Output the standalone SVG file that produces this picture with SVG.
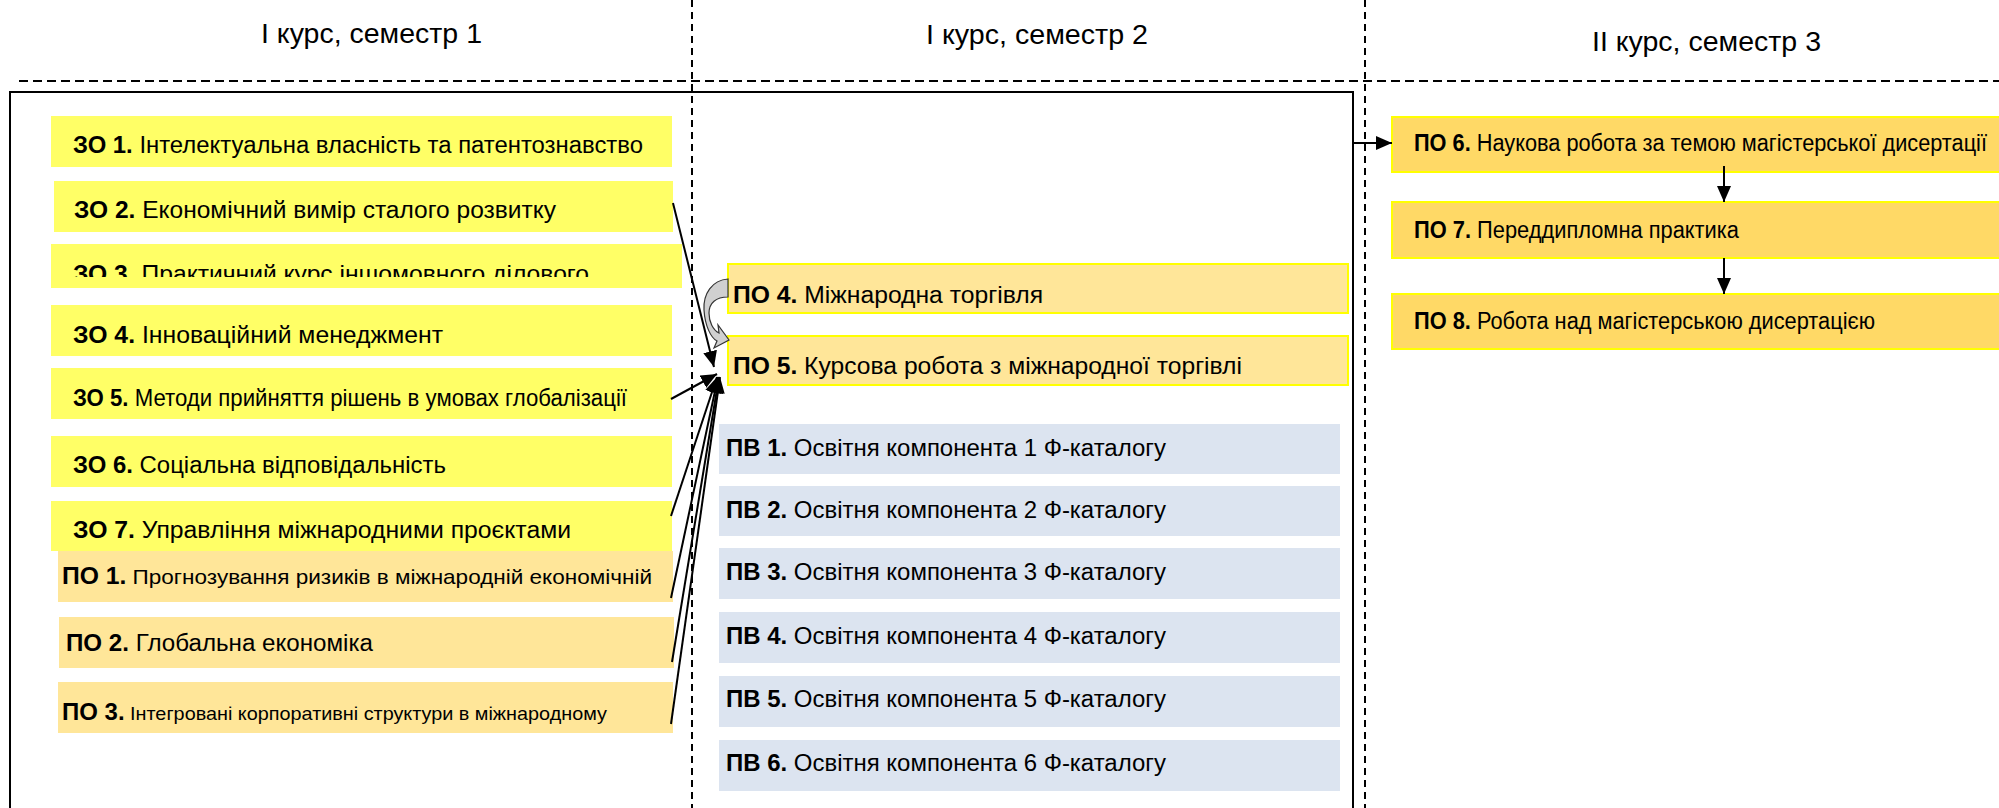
<svg xmlns="http://www.w3.org/2000/svg" width="1999" height="808" viewBox="0 0 1999 808">
<defs>
<style>
text{font-family:"Liberation Sans",Arial,sans-serif;fill:#000}
.t{font-size:27px}
.b{font-size:23px}
.bd{font-weight:bold}
.zo{fill:#FFFF66}
.po{fill:#FFE699}
.pob{fill:#FFE699;stroke:#FFFF00;stroke-width:2}
.pv{fill:#DCE4F0}
.po2{fill:#FFD966;stroke:#FFFF00;stroke-width:2}
.dh{stroke:#000;stroke-width:2;stroke-dasharray:9 5;fill:none}
.dv{stroke:#000;stroke-width:2;stroke-dasharray:7 5;fill:none}
.c{stroke:#000;stroke-width:2;fill:none;marker-end:url(#ah)}
</style>
<marker id="ah" markerUnits="userSpaceOnUse" markerWidth="16" markerHeight="14" refX="16" refY="7" orient="auto">
<path d="M0,0 L16,7 L0,14 z" fill="#000"/>
</marker>
<clipPath id="clip3"><rect x="40" y="240" width="660" height="37"/></clipPath>
</defs>

<g id="grid">
<line class="dh" x1="19" y1="81" x2="1999" y2="81"/>
<line class="dv" x1="692" y1="0" x2="692" y2="808"/>
<line class="dv" x1="1365" y1="0" x2="1365" y2="808"/>
<rect x="10" y="92" width="1343" height="730" fill="none" stroke="#000" stroke-width="2"/>
</g>

<g id="titles">
<text class="t" x="261" y="43" textLength="221" lengthAdjust="spacingAndGlyphs">І курс, семестр 1</text>
<text class="t" x="926" y="44" textLength="222" lengthAdjust="spacingAndGlyphs">І курс, семестр 2</text>
<text class="t" x="1592" y="51" textLength="229" lengthAdjust="spacingAndGlyphs">ІІ курс, семестр 3</text>
</g>

<g id="zo1"><rect class="zo" x="51" y="116" width="621" height="51"/>
<text class="b" x="73" y="153" textLength="570" lengthAdjust="spacingAndGlyphs"><tspan class="bd">ЗО 1.</tspan> Інтелектуальна власність та патентознавство</text></g>
<g id="zo2"><rect class="zo" x="54" y="181" width="619" height="51"/>
<text class="b" x="74" y="218" textLength="482" lengthAdjust="spacingAndGlyphs"><tspan class="bd">ЗО 2.</tspan> Економічний вимір сталого розвитку</text></g>
<g id="zo3"><rect class="zo" x="51" y="244" width="631" height="44"/>
<text class="b" x="73" y="282" textLength="516" lengthAdjust="spacingAndGlyphs" clip-path="url(#clip3)"><tspan class="bd">ЗО 3.</tspan> Практичний курс іншомовного ділового</text></g>
<g id="zo4"><rect class="zo" x="51" y="305" width="621" height="51"/>
<text class="b" x="73" y="343" textLength="370" lengthAdjust="spacingAndGlyphs"><tspan class="bd">ЗО 4.</tspan> Інноваційний менеджмент</text></g>
<g id="zo5"><rect class="zo" x="51" y="368" width="621" height="51"/>
<text class="b" x="73" y="406" textLength="554" lengthAdjust="spacingAndGlyphs"><tspan class="bd">ЗО 5.</tspan> Методи прийняття рішень в умовах глобалізації</text></g>
<g id="zo6"><rect class="zo" x="51" y="436" width="621" height="51"/>
<text class="b" x="73" y="473" textLength="373" lengthAdjust="spacingAndGlyphs"><tspan class="bd">ЗО 6.</tspan> Соціальна відповідальність</text></g>
<g id="zo7"><rect class="zo" x="51" y="501" width="621" height="50"/>
<text class="b" x="73" y="538" textLength="498" lengthAdjust="spacingAndGlyphs"><tspan class="bd">ЗО 7.</tspan> Управління міжнародними проєктами</text></g>

<g id="po1"><rect class="po" x="58" y="551" width="615" height="51"/>
<text class="b" x="62" y="584" textLength="590" lengthAdjust="spacingAndGlyphs"><tspan class="bd">ПО 1.</tspan><tspan font-size="21"> Прогнозування ризиків в міжнародній економічній</tspan></text></g>
<g id="po2"><rect class="po" x="59" y="617" width="615" height="51"/>
<text class="b" x="66" y="651" textLength="307" lengthAdjust="spacingAndGlyphs"><tspan class="bd">ПО 2.</tspan> Глобальна економіка</text></g>
<g id="po3"><rect class="po" x="58" y="682" width="615" height="51"/>
<text class="b" x="62" y="720" textLength="545" lengthAdjust="spacingAndGlyphs"><tspan class="bd">ПО 3.</tspan><tspan font-size="19"> Інтегровані корпоративні структури в міжнародному</tspan></text></g>

<g id="po4"><rect class="pob" x="728" y="264" width="620" height="49"/>
<text class="b" x="733" y="303" textLength="310" lengthAdjust="spacingAndGlyphs"><tspan class="bd">ПО 4.</tspan> Міжнародна торгівля</text></g>
<g id="po5"><rect class="pob" x="728" y="336" width="620" height="49"/>
<text class="b" x="733" y="374" textLength="509" lengthAdjust="spacingAndGlyphs"><tspan class="bd">ПО 5.</tspan> Курсова робота з міжнародної торгівлі</text></g>

<g id="pv1"><rect class="pv" x="719" y="424" width="621" height="50"/>
<text class="b" x="726" y="456" textLength="440" lengthAdjust="spacingAndGlyphs"><tspan class="bd">ПВ 1.</tspan> Освітня компонента 1 Ф-каталогу</text></g>
<g id="pv2"><rect class="pv" x="719" y="486" width="621" height="50"/>
<text class="b" x="726" y="518" textLength="440" lengthAdjust="spacingAndGlyphs"><tspan class="bd">ПВ 2.</tspan> Освітня компонента 2 Ф-каталогу</text></g>
<g id="pv3"><rect class="pv" x="719" y="548" width="621" height="51"/>
<text class="b" x="726" y="580" textLength="440" lengthAdjust="spacingAndGlyphs"><tspan class="bd">ПВ 3.</tspan> Освітня компонента 3 Ф-каталогу</text></g>
<g id="pv4"><rect class="pv" x="719" y="612" width="621" height="51"/>
<text class="b" x="726" y="644" textLength="440" lengthAdjust="spacingAndGlyphs"><tspan class="bd">ПВ 4.</tspan> Освітня компонента 4 Ф-каталогу</text></g>
<g id="pv5"><rect class="pv" x="719" y="676" width="621" height="51"/>
<text class="b" x="726" y="707" textLength="440" lengthAdjust="spacingAndGlyphs"><tspan class="bd">ПВ 5.</tspan> Освітня компонента 5 Ф-каталогу</text></g>
<g id="pv6"><rect class="pv" x="719" y="740" width="621" height="51"/>
<text class="b" x="726" y="771" textLength="440" lengthAdjust="spacingAndGlyphs"><tspan class="bd">ПВ 6.</tspan> Освітня компонента 6 Ф-каталогу</text></g>

<g id="po6"><rect class="po2" x="1392" y="117" width="620" height="55"/>
<text class="b" x="1414" y="151" textLength="573" lengthAdjust="spacingAndGlyphs"><tspan class="bd">ПО 6.</tspan> Наукова робота за темою магістерської дисертації</text></g>
<g id="po7"><rect class="po2" x="1392" y="202" width="620" height="56"/>
<text class="b" x="1414" y="238" textLength="325" lengthAdjust="spacingAndGlyphs"><tspan class="bd">ПО 7.</tspan> Переддипломна практика</text></g>
<g id="po8"><rect class="po2" x="1392" y="294" width="620" height="55"/>
<text class="b" x="1414" y="329" textLength="461" lengthAdjust="spacingAndGlyphs"><tspan class="bd">ПО 8.</tspan> Робота над магістерською дисертацією</text></g>

<g id="connectors">
<line class="c" x1="673" y1="203" x2="714" y2="367"/>
<line class="c" x1="671" y1="399" x2="717" y2="374"/>
<line class="c" x1="671" y1="516" x2="717" y2="377"/>
<line class="c" x1="671" y1="598" x2="718" y2="377"/>
<line class="c" x1="672" y1="662" x2="719" y2="377"/>
<line class="c" x1="671" y1="724" x2="720" y2="377"/>
<line class="c" x1="1353" y1="143" x2="1392" y2="143"/>
<line class="c" x1="1724" y1="166" x2="1724" y2="202"/>
<line class="c" x1="1724" y1="258" x2="1724" y2="294"/>
<path d="M728,279 C712,280 703,294 704,310 C705,326 711,338 717,341 L714,348 L729,340 L718,325 L719,333 C713,330 709,322 709,313 C709,303 716,297 728,297 Z" fill="#D0D0D0" stroke="#333" stroke-width="1.2"/>
</g>
</svg>
